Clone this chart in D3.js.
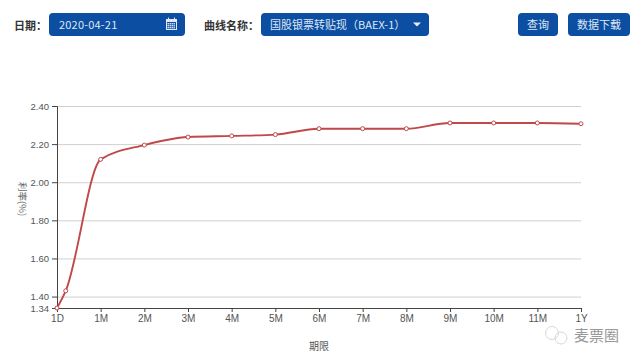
<!DOCTYPE html>
<html>
<head>
<meta charset="utf-8">
<script src="https://cdn.jsdelivr.net/npm/d3@7/dist/d3.min.js"></script>
<style>
html, body { margin: 0; padding: 0; background: #fff; }
svg { display: block; }
text { font-family: "Noto Sans CJK SC", "Liberation Sans", sans-serif; }
</style>
</head>
<body>
<div id="chart"></div>
<script>
const tenorLabels = ['1D', '1M', '2M', '3M', '4M', '5M', '6M', '7M', '8M', '9M', '10M', '11M', '1Y']
const tickMonths = [0, 1, 2, 3, 4, 5, 6, 7, 8, 9, 10, 11, 12]
const pointMonths = [0, 0.2, 1, 2, 3, 4, 5, 6, 7, 8, 9, 10, 11, 12]
const yields = [1.34, 1.43, 2.12, 2.195, 2.237, 2.243, 2.25, 2.281, 2.281, 2.281, 2.311, 2.311, 2.311, 2.307]
const yTicks = [1.34, 1.40, 1.60, 1.80, 2.00, 2.20, 2.40]

const width = 640
const height = 363
const blue = '#0b4ea2'
const red = '#c0474a'

const svg = d3.select('#chart')
    .append('svg')
    .attr('width', width)
    .attr('height', height)

const x = d3.scaleLinear().domain([0, 12]).range([57, 581])
const y = d3.scaleLinear().domain([1.34, 2.40]).range([308, 106])

// top form controls
const addBox = (x0, x1) => svg.append('rect')
    .attr('x', x0).attr('y', 13)
    .attr('width', x1 - x0).attr('height', 23)
    .attr('rx', 4)
    .attr('fill', blue)

const addLabel = (txt, lx) => svg.append('text')
    .attr('x', lx).attr('y', 30)
    .attr('font-size', 11)
    .attr('font-weight', 700)
    .attr('fill', '#333')
    .text(txt)

const addBoxText = (txt, tx, anchor, spacing) => svg.append('text')
    .attr('x', tx).attr('y', 29)
    .attr('text-anchor', anchor)
    .attr('font-size', 11)
    .attr('letter-spacing', spacing)
    .attr('fill', '#dfe8f4')
    .text(txt)

addLabel('日期：', 14)
addBox(49, 185)
addBoxText('2020-04-21', 59, 'start', 0.2)
addLabel('曲线名称：', 204)
addBox(261, 429)
addBoxText('国股银票转贴现（BAEX-1）', 270, 'start', 0)
addBox(518, 558)
addBoxText('查询', 538, 'middle', 0)
addBox(568, 630)
addBoxText('数据下载', 599, 'middle', 0)

// calendar icon
const cal = svg.append('g').attr('transform', 'translate(166,19)')
cal.append('rect').attr('width', 11).attr('height', 11).attr('fill', '#dfe8f4')
cal.append('rect').attr('x', 1).attr('y', 3).attr('width', 9).attr('height', 7).attr('fill', blue)
d3.range(3).forEach(r => d3.range(4).forEach(c => {
    cal.append('rect')
        .attr('x', 1.5 + c * 2).attr('y', 4 + r * 2)
        .attr('width', 1.4).attr('height', 1.4)
        .attr('fill', '#dfe8f4')
}))
cal.selectAll('.peg').data([2, 8]).enter().append('rect')
    .attr('x', d => d).attr('y', -1.5)
    .attr('width', 1).attr('height', 2.5)
    .attr('fill', '#dfe8f4')

// dropdown caret
svg.append('path')
    .attr('d', d3.line()([[413, 22.5], [421, 22.5], [417, 26.5]]) + 'Z')
    .attr('fill', '#e8eff8')

// grid lines
svg.append('g').selectAll('line')
    .data(yTicks.filter(d => d !== 1.34))
    .enter().append('line')
    .attr('x1', x(0)).attr('x2', x(12))
    .attr('y1', d => y(d) + 0.5)
    .attr('y2', d => y(d) + 0.5)
    .attr('stroke', '#d0d0d0')

// axes
const xAxis = d3.axisBottom(x)
    .tickValues(tickMonths)
    .tickFormat((d, i) => tenorLabels[i])
    .tickSizeOuter(0)
    .tickSize(4)
const yAxis = d3.axisLeft(y)
    .tickValues(yTicks)
    .tickFormat(d3.format('.2f'))
    .tickSizeOuter(0)
    .tickSize(5)

const gx = svg.append('g').attr('transform', 'translate(0,308)').call(xAxis)
const gy = svg.append('g').attr('transform', 'translate(57,0)').call(yAxis)
;[gx, gy].forEach(g => {
    g.selectAll('path, line').attr('stroke', '#444')
    g.selectAll('text').attr('fill', '#555').attr('font-size', 9.5)
        .style('font-family', '"Liberation Sans", sans-serif')
})
gx.selectAll('text').attr('font-size', 10).attr('dy', '0.72em')

// axis names
svg.append('text')
    .attr('x', 319).attr('y', 350)
    .attr('text-anchor', 'middle')
    .attr('font-size', 10)
    .attr('fill', '#555')
    .text('期限')
svg.append('text')
    .attr('transform', 'translate(19,199) rotate(90)')
    .attr('text-anchor', 'middle')
    .attr('font-size', 9.5)
    .attr('fill', '#666')
    .text('利率(%)')

// the curve
const pts = pointMonths.map((m, i) => [x(m), y(yields[i])])
svg.append('path')
    .attr('d', d3.line().curve(d3.curveMonotoneX)(pts))
    .attr('fill', 'none')
    .attr('stroke', red)
    .attr('stroke-width', 1.9)
svg.append('g').selectAll('circle')
    .data(pts)
    .enter().append('circle')
    .attr('cx', d => d[0])
    .attr('cy', d => d[1])
    .attr('r', 2)
    .attr('fill', '#fff')
    .attr('stroke', red)
    .attr('stroke-width', 1)

// watermark
const wm = svg.append('g').attr('fill', 'none').attr('stroke', '#d8d8d8')
wm.append('circle').attr('cx', 552).attr('cy', 333).attr('r', 6.5)
wm.append('circle').attr('cx', 561).attr('cy', 338).attr('r', 6)
svg.append('text')
    .attr('x', 574).attr('y', 341)
    .attr('font-size', 15)
    .attr('fill', '#999')
    .text('麦票圈')
</script>
</body>
</html>
